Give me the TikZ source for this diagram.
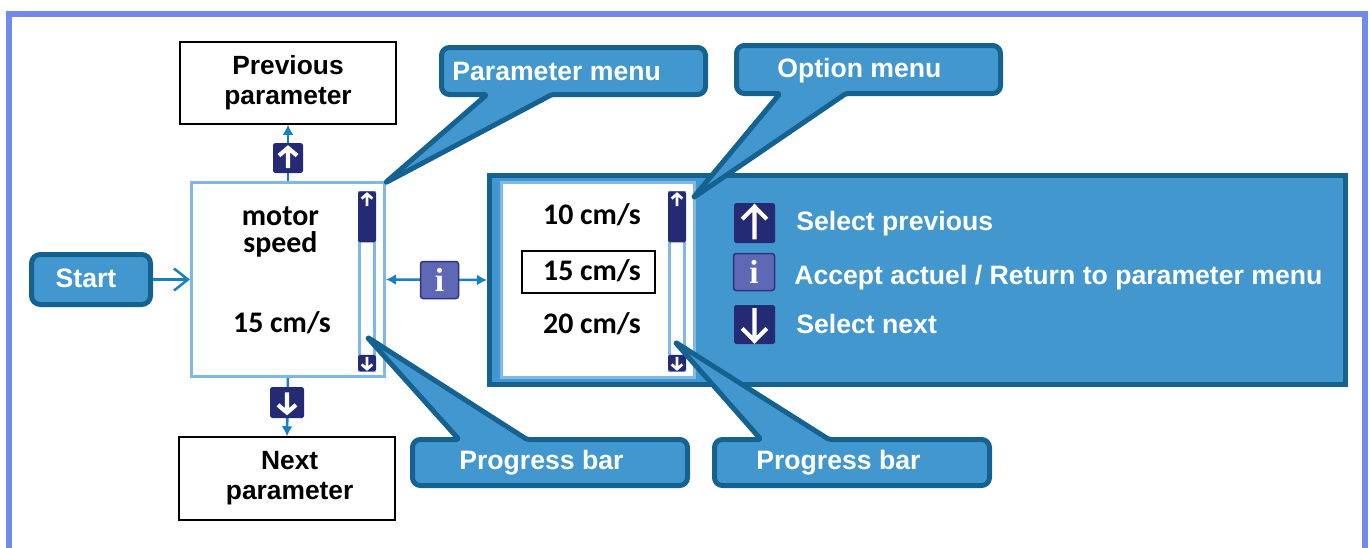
\documentclass[tikz,border=0pt]{standalone}
\usepackage{fontspec}
\setmainfont{Liberation Sans}
\newfontfamily\carlito{Carlito}
\newfontfamily\serifi{Liberation Serif}
\usetikzlibrary{arrows.meta}
\definecolor{framecol}{HTML}{7389EC}
\definecolor{panelcol}{HTML}{4298CE}
\definecolor{darkcol}{HTML}{156190}
\definecolor{lightcol}{HTML}{7FB8E8}
\definecolor{navycol}{HTML}{252A75}
\definecolor{linkcol}{HTML}{1580C4}
\definecolor{infocol}{HTML}{5F68B5}
\def\px{0.02cm}
\tikzset{
  plainbox/.style={draw=black, line width=1.5*\px, fill=white, align=center, inner sep=0pt, font=\bfseries\fontsize{15}{17}\selectfont},
  menubox/.style={draw=lightcol, line width=3*\px, fill=white, inner sep=0pt},
  panelbox/.style={draw=darkcol, line width=5*\px, fill=panelcol, inner sep=0pt},
  startbox/.style={draw=darkcol, line width=5*\px, fill=panelcol, rounded corners=5pt, inner sep=0pt},
  calloutshape/.style={draw=darkcol, line width=5*\px, fill=panelcol, line join=round},
  calloutlabel/.style={text=white, inner sep=0pt, font=\bfseries\fontsize{15.15}{17}\selectfont},
  speedlabel/.style={inner sep=0pt, font=\carlito\bfseries\fontsize{17}{15.4}\selectfont},
  selectbox/.style={draw=black, line width=2.5*\px, inner sep=0pt},
  keynode/.style={fill=navycol, rounded corners=1pt, inner sep=0pt},
  infonode/.style={draw=navycol!85!infocol, line width=1.5*\px, fill=infocol, rounded corners=1.5pt, inner sep=0pt, text=white, font=\serifi\bfseries\fontsize{19}{19}\selectfont},
  link/.style={draw=linkcol, line width=2.5*\px},
  barbody/.style={draw=lightcol, line width=3*\px, fill=white, inner sep=0pt},
}
\newcommand{\keyglyph}[4]{
  \begin{scope}[shift={(#1.center)}, x=#2*\px, y=#3*#2*\px]
    \draw[white, line width=#4*#2*\px, line join=miter] (0,-.42) -- (0,.42) (-.3,.1) -- (0,.42) -- (.3,.1);
  \end{scope}
}
\newcommand{\scrollbar}[2]{
  \node (#1) [barbody, minimum width=15.5*\px, minimum height=178*\px] at (#2,281) {};
  \node (#1top) [keynode, minimum width=18*\px, minimum height=51*\px, anchor=north] at (#2,191) {};
  \node (#1up) [inner sep=0pt, minimum width=18*\px, minimum height=18*\px] at (#2,200) {};
  \node (#1down) [keynode, minimum width=18*\px, minimum height=16.5*\px] at (#2,363) {};
  \keyglyph{#1up}{18}{.8}{.15}
  \keyglyph{#1down}{18}{-.8}{.15}
}

\begin{document}
\begin{tikzpicture}[x=\px, y=-\px]
  \useasboundingbox (0,0) rectangle (1370,548);
  \draw[framecol, line width=6*\px] (9,548) -- (9,14) -- (1365,14) -- (1365,548);

  \node (prevbox) [plainbox, minimum width=216*\px, minimum height=82*\px] at (288,83) {Previous\\parameter};
  \node (nextbox) [plainbox, minimum width=216*\px, minimum height=83*\px] at (287,478.5) {\hspace*{3pt}Next\\\hspace*{3pt}parameter};
  \node (parambox) [menubox, minimum width=193*\px, minimum height=194*\px] at (288,279.5) {};
  \node (startbox) [startbox, minimum width=119*\px, minimum height=50*\px] at (91,279.5) {};
  \node (starttext) [calloutlabel] at (86,278) {Start};
  \node (panel) [panelbox, minimum width=856*\px, minimum height=209*\px] at (917.5,280) {};
  \node (optionbox) [menubox, minimum width=193*\px, minimum height=195*\px] at (598,280) {};
  \node (selectbox) [selectbox, minimum width=133*\px, minimum height=42*\px] at (588.5,272) {};

  \draw[link, -{Latex[length=10*\px, width=11*\px]}] (parambox.north) -- (prevbox.south);
  \draw[link, -{Latex[length=10*\px, width=11*\px]}] (parambox.south) -- (nextbox.north);
  \draw[link, -{Straight Barb[length=14*\px, width=22*\px]}] (startbox.east) -- (parambox.west);
  \draw[link, {Latex[length=10*\px, width=11*\px]}-{Latex[length=10*\px, width=11*\px]}] (parambox.east) -- (panel.west);

  \node (upkey) [keynode, minimum width=30*\px, minimum height=30*\px] at (288,158) {};
  \keyglyph{upkey}{30}{.8}{.14}
  \node (downkey) [keynode, minimum width=34*\px, minimum height=31*\px] at (287,402.5) {};
  \keyglyph{downkey}{30}{-.8}{.14}
  \node (infokey) [infonode, minimum width=38*\px, minimum height=37*\px] at (439.5,280) {i};

  \node (motortext) [speedlabel, align=center] at (280.5,232) {motor\\speed};
  \node (speedtext) [speedlabel] at (282,323) {15 cm/s};
  \node (tenspeed) [speedlabel] at (592,215) {10 cm/s};
  \node (fifteenspeed) [speedlabel] at (592,271) {15 cm/s};
  \node (twentyspeed) [speedlabel] at (592,324) {20 cm/s};

  \scrollbar{parambar}{367}
  \scrollbar{optionbar}{677}

  \node (legendup) [keynode, minimum width=41*\px, minimum height=40*\px] at (754.5,223) {};
  \keyglyph{legendup}{41}{.95}{.1}
  \node (legendinfo) [infonode, minimum width=41*\px, minimum height=37*\px] at (754,272) {i};
  \node (legenddown) [keynode, minimum width=41*\px, minimum height=39*\px] at (754.5,324.5) {};
  \keyglyph{legenddown}{41}{-.95}{.1}
  \node (prevtext) [calloutlabel, anchor=west] at (796,224) {Select previous};
  \node (accepttext) [calloutlabel, anchor=west] at (794,278) {Accept actuel / Return to parameter menu};
  \node (nexttext) [calloutlabel, anchor=west] at (796,324) {Select next};

  \draw[calloutshape, rounded corners=4.5pt] (570,47.5) -- (705.5,47.5) -- (705.5,94.5) [rounded corners=1pt] -- (552,94.5) -- (385,183) -- (487,94.5) [rounded corners=4.5pt] -- (441.5,94.5) -- (441.5,47.5) -- cycle;
  \node (paramtext) [calloutlabel, anchor=west] at (452,71) {Parameter menu};
  \draw[calloutshape, rounded corners=4.5pt] (870,45.5) -- (1000.5,45.5) -- (1000.5,93.5) [rounded corners=1pt] -- (846,93.5) -- (693,198) -- (780,93.5) [rounded corners=4.5pt] -- (736.5,93.5) -- (736.5,45.5) -- cycle;
  \node (optiontext) [calloutlabel, anchor=west] at (777,71) {Option menu};
  \draw[calloutshape, rounded corners=4.5pt] (550,485.5) -- (412.5,485.5) -- (412.5,439.5) [rounded corners=1pt] -- (459,439.5) -- (367,337) -- (527,439.5) [rounded corners=4.5pt] -- (687.5,439.5) -- (687.5,485.5) -- cycle;
  \node (bartext) [calloutlabel, anchor=west] at (459,463) {Progress bar};
  \draw[calloutshape, rounded corners=4.5pt] (850,485.5) -- (714.5,485.5) -- (714.5,439.5) [rounded corners=1pt] -- (761,439.5) -- (675,342) -- (829,439.5) [rounded corners=4.5pt] -- (989.5,439.5) -- (989.5,485.5) -- cycle;
  \node (optionbartext) [calloutlabel, anchor=west] at (756,463) {Progress bar};
\end{tikzpicture}
\end{document}
